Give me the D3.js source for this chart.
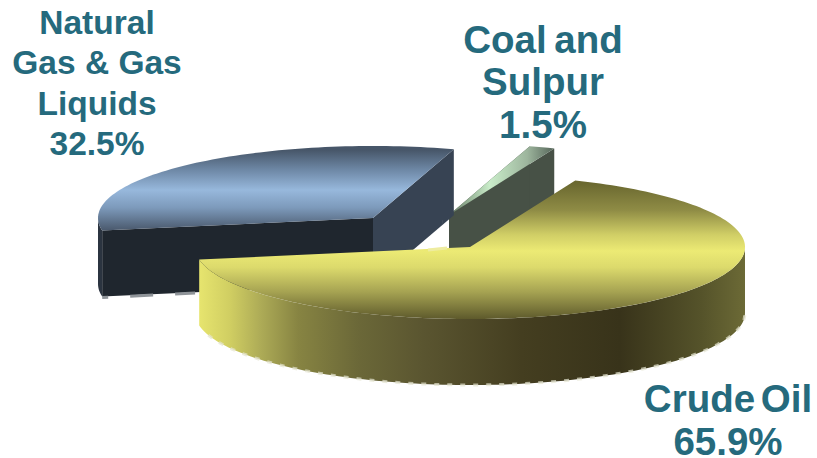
<!DOCTYPE html>
<html>
<head>
<meta charset="utf-8">
<script src="https://cdn.jsdelivr.net/npm/d3@7"></script>
<style>
  html, body { margin: 0; padding: 0; background: #fff; overflow: hidden; }
  .label { font-family: "Liberation Sans", Arial, sans-serif; font-weight: 700; fill: #256a7d; text-anchor: middle; }
</style>
</head>
<body>
<div class="chart"></div>
<script>
// DATA ------------------------------
const categories = ["Crude Oil", "Natural Gas & Gas Liquids", "Coal and Sulpur"];
const shares = [65.9, 32.5, 1.5];
const shareLabels = ["65.9%", "32.5%", "1.5%"];

// CHART INIT ------------------------
const width = 817, height = 458;
const rx = 275, ry = 72, depth = 66;

// where each exploded slice has its apex
const centers = [[470, 247], [373, 218], [449, 215]];

const svg = d3.select(".chart").append("svg")
    .attr("width", width)
    .attr("height", height);

const defs = svg.append("defs");

function gradient(id, dir, a, b, stops) {
    const g = defs.append("linearGradient")
        .attr("id", id)
        .attr("gradientUnits", "userSpaceOnUse")
        .attr("x1", dir == "x" ? a : 0).attr("x2", dir == "x" ? b : 0)
        .attr("y1", dir == "y" ? a : 0).attr("y2", dir == "y" ? b : 0);
    stops.forEach(s => g.append("stop").attr("offset", s[0]).attr("stop-color", s[1]));
}

gradient("oilTop", "y", 183, 319, [[0, "#6a6830"], [0.2, "#8f8c45"], [0.38, "#d0ce66"], [0.5, "#ecea74"], [0.62, "#dcda6c"], [0.8, "#a6a352"], [1, "#5e5a2c"]]);
gradient("oilSide", "x", 200, 745, [[0, "#e6e46e"], [0.055, "#d0ce62"], [0.11, "#aeac57"], [0.18, "#878442"], [0.29, "#6b6838"], [0.41, "#5a5530"], [0.59, "#443e20"], [0.77, "#38331a"], [0.92, "#55532a"], [1, "#6c6a36"]]);
gradient("gasTop", "y", 150, 230, [[0, "#475669"], [0.25, "#6e88a6"], [0.5, "#97b8dc"], [0.72, "#7d9abb"], [1, "#4b5a6e"]]);
gradient("coalTop", "x", 447, 554, [[0, "#60755f"], [0.4, "#c9ecc9"], [0.75, "#9db59d"], [1, "#56665a"]]);

const pie = d3.pie().sort(null)
    .startAngle(22.5 * Math.PI / 180)
    .endAngle((22.5 + 360) * Math.PI / 180);
const slices = pie(shares);

// angle (0 = up, clockwise) onto the flattened ellipse
const point = (i, a, dy) => [
    centers[i][0] + rx * Math.sin(a),
    centers[i][1] - ry * Math.cos(a) + (dy || 0)
];
const line = d3.line();

function rim(i, a0, a1, dy) {
    const n = Math.max(2, Math.ceil(Math.abs(a1 - a0) * 40));
    return d3.range(n + 1).map(k => point(i, a0 + (a1 - a0) * k / n, dy));
}

function topFace(i) {
    const c = centers[i];
    return line([c, ...rim(i, slices[i].startAngle, slices[i].endAngle)]) + "Z";
}

// flat quad from the apex out to the rim, dropped by depth
function cutFace(i, a) {
    const c = centers[i], p = point(i, a);
    return line([c, p, [p[0], p[1] + depth], [c[0], c[1] + depth]]) + "Z";
}

// outer wall between two angles
function wall(i, a0, a1) {
    return line([...rim(i, a0, a1), ...rim(i, a1, a0, depth)]) + "Z";
}

// grey speckle left along the bottom edges
function speckle(pts, color, dash) {
    svg.append("path")
        .attr("d", line(pts))
        .attr("fill", "none")
        .attr("stroke", color)
        .attr("stroke-width", 3)
        .attr("stroke-dasharray", dash);
}

const gasS = slices[1], coalS = slices[2], oilS = slices[0];
const east = Math.PI / 2, west = 1.5 * Math.PI;

// COAL ------------------------------
svg.append("path").attr("d", cutFace(2, coalS.endAngle)).attr("fill", "#475146");
svg.append("path").attr("d", cutFace(2, coalS.startAngle)).attr("fill", "#475146");
svg.append("path").attr("d", topFace(2)).attr("fill", "url(#coalTop)");

// GAS -------------------------------
svg.append("path").attr("d", wall(1, gasS.startAngle, west)).attr("fill", "#2b3440");
svg.append("path").attr("d", cutFace(1, gasS.endAngle)).attr("fill", "#374353");
svg.append("path").attr("d", cutFace(1, gasS.startAngle)).attr("fill", "#1f262e");
svg.append("path").attr("d", topFace(1)).attr("fill", "url(#gasTop)");

const gasFoot = [centers[1][0], centers[1][1] + depth];
const gasCut = d3.interpolate([gasFoot[0], gasFoot[1] - 3], point(1, gasS.endAngle, depth - 3));
speckle([gasCut(0.45), gasCut(0.86)], "#a9adb1", "9 4");
speckle([point(1, gasS.startAngle, depth + 1), gasFoot], "#8f9499", "6 22 23 22 20 400");

// OIL -------------------------------
svg.append("path").attr("d", wall(0, east, oilS.endAngle)).attr("fill", "url(#oilSide)");
speckle(rim(0, east + 0.03, oilS.endAngle - 0.1, depth), "rgba(228,228,208,0.7)", "5 8");
svg.append("path").attr("d", topFace(0)).attr("fill", "url(#oilTop)");
speckle([[centers[0][0] - 42, centers[0][1] + 3], [centers[0][0] - 23, centers[0][1] + 1]], "#eeeca0", "none");

// LABELS ----------------------------
const labelLines = [
    ["Crude Oil", shareLabels[0]],
    ["Natural", "Gas & Gas", "Liquids", shareLabels[1]],
    ["Coal and", "Sulpur", shareLabels[2]]
];
const labelPos = [[728, 412, 42.5, 38.5, -5], [97, 33.5, 40.5, 33.5, 0], [543, 52.5, 42.5, 38.5, -3]];

labelLines.forEach((rows, i) => {
    svg.append("text")
        .attr("class", "label")
        .style("font-size", labelPos[i][3] + "px")
        .style("word-spacing", labelPos[i][4] + "px")
        .selectAll("tspan")
        .data(rows)
        .join("tspan")
        .attr("x", labelPos[i][0])
        .attr("y", (d, k) => labelPos[i][1] + k * labelPos[i][2])
        .text(d => d);
});
</script>
</body>
</html>
